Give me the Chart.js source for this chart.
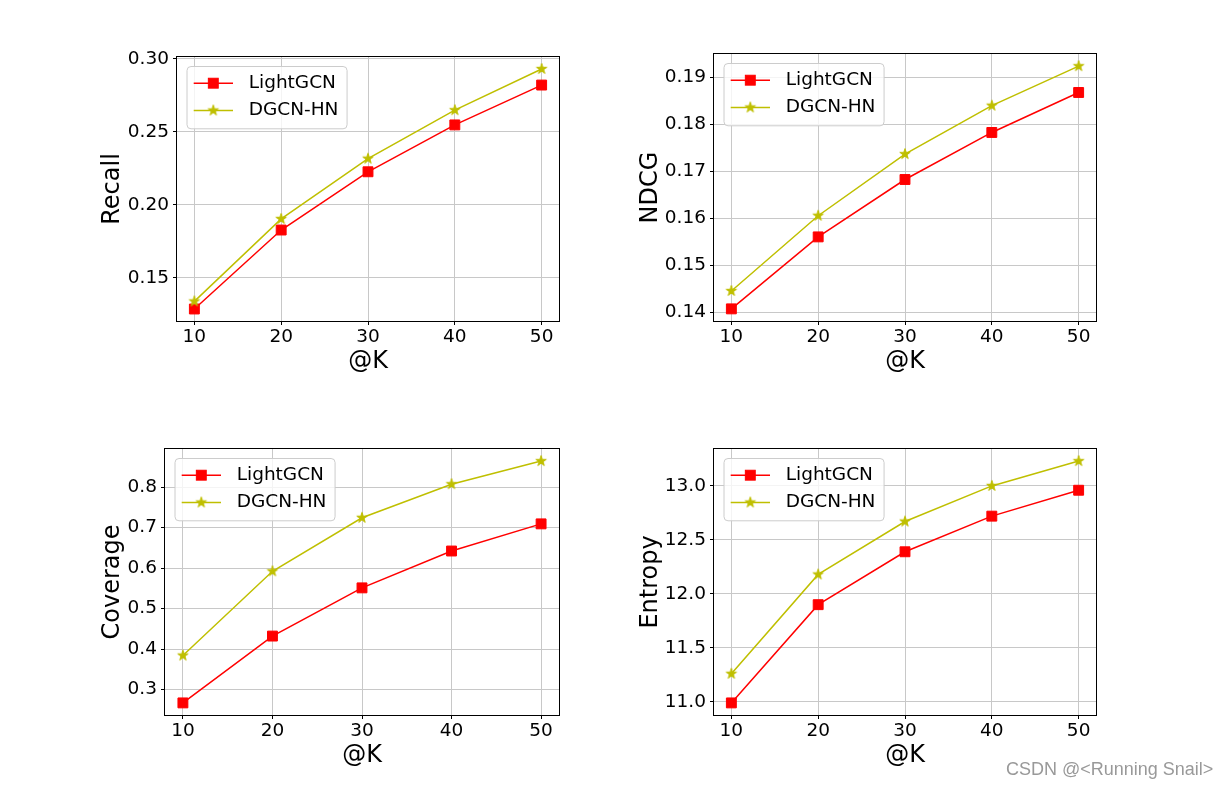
<!DOCTYPE html>
<html>
<head>
<meta charset="utf-8">
<script src="https://cdn.jsdelivr.net/npm/chart.js@4.4.1/dist/chart.umd.min.js"></script>
<style>
  html, body { margin: 0; padding: 0; background: #fff; }
  body { width: 1229px; height: 787px; position: relative; overflow: hidden; }
  canvas { position: absolute; }
  #mark { position: absolute; left: 1006px; top: 759px; font: 18px 'Liberation Sans', Arial, sans-serif; color: #999; white-space: nowrap; }
</style>
</head>
<body>
<canvas id="recall"></canvas>
<canvas id="ndcg"></canvas>
<canvas id="coverage"></canvas>
<canvas id="entropy"></canvas>
<div id="mark">CSDN @&lt;Running Snail&gt;</div>
<script>
// data
const kValues = [10, 20, 30, 40, 50];
const xTicks = [10, 20, 30, 40, 50];
const seriesNames = ['LightGCN', 'DGCN-HN'];

const recallLightGCN = [0.1287, 0.1828, 0.2227, 0.2548, 0.2821];
const recallDGCN = [0.1339, 0.1904, 0.2317, 0.2649, 0.2931];
const recallTicks = [0.15, 0.20, 0.25, 0.30];
const recallTickLabels = ['0.15', '0.20', '0.25', '0.30'];

const ndcgLightGCN = [0.1408, 0.1561, 0.1683, 0.1783, 0.1868];
const ndcgDGCN = [0.1446, 0.1606, 0.1737, 0.1840, 0.1924];
const ndcgTicks = [0.14, 0.15, 0.16, 0.17, 0.18, 0.19];
const ndcgTickLabels = ['0.14', '0.15', '0.16', '0.17', '0.18', '0.19'];

const coverageLightGCN = [0.267, 0.432, 0.551, 0.642, 0.709];
const coverageDGCN = [0.384, 0.592, 0.724, 0.807, 0.864];
const coverageTicks = [0.3, 0.4, 0.5, 0.6, 0.7, 0.8];
const coverageTickLabels = ['0.3', '0.4', '0.5', '0.6', '0.7', '0.8'];

const entropyLightGCN = [10.99, 11.90, 12.39, 12.72, 12.96];
const entropyDGCN = [11.26, 12.18, 12.67, 13.00, 13.23];
const entropyTicks = [11.0, 11.5, 12.0, 12.5, 13.0];
const entropyTickLabels = ['11.0', '11.5', '12.0', '12.5', '13.0'];

const FONT = "'DejaVu Sans'";
const TICK_SIZE = 18.5;
const RED = '#ff0000';
const OLIVE = '#bfbf00';

Chart.defaults.font.family = FONT;
Chart.defaults.color = '#000';

// filled 5 point star like matplotlib '*'
function makeStar(color, r) {
    const c = document.createElement('canvas');
    const s = 14;
    c.width = c.height = s;
    const g = c.getContext('2d');
    g.beginPath();
    for (let i = 0; i < 10; i++) {
        const rad = i % 2 ? r * 0.382 : r;
        const a = -Math.PI / 2 + i * Math.PI / 5;
        const px = s / 2 + rad * Math.cos(a);
        const py = s / 2 + rad * Math.sin(a);
        if (i) g.lineTo(px, py); else g.moveTo(px, py);
    }
    g.closePath();
    g.fillStyle = color;
    g.fill();
    g.strokeStyle = color;
    g.lineWidth = 1;
    g.stroke();
    return c;
}
const starImg = makeStar(OLIVE, 5.5);

// axes frame + matplotlib style legend in upper left
const frameLegend = {
    id: 'frameLegend',
    afterDatasetsDraw(chart) {
        const { ctx, chartArea: a } = chart;
        ctx.save();
        ctx.strokeStyle = '#000';
        ctx.lineWidth = 1;
        const l = Math.round(a.left) - 0.5, t = Math.round(a.top) - 0.5;
        const r = Math.round(a.right) + 0.5, b = Math.round(a.bottom) + 0.5;
        ctx.strokeRect(l, t, r - l, b - t);
        ctx.restore();
    },
    afterDraw(chart) {
        const { ctx, chartArea: a } = chart;
        const sets = chart.data.datasets;
        ctx.save();
        ctx.font = TICK_SIZE + 'px ' + FONT;
        const tw = Math.max(...sets.map(d => ctx.measureText(d.label).width));
        const x0 = a.left + 10, y0 = a.top + 9.5;
        const bw = 61.7 + tw + 8.6, bh = 62.3;
        ctx.beginPath();
        ctx.roundRect(x0, y0, bw, bh, 4);
        ctx.fillStyle = 'rgba(255,255,255,0.8)';
        ctx.fill();
        ctx.strokeStyle = '#cccccc';
        ctx.lineWidth = 1;
        ctx.stroke();
        sets.forEach((d, i) => {
            const cy = y0 + 16.7 + i * 27.3;
            ctx.strokeStyle = d.borderColor;
            ctx.lineWidth = d.borderWidth;
            ctx.beginPath();
            ctx.moveTo(x0 + 6.7, cy);
            ctx.lineTo(x0 + 46, cy);
            ctx.stroke();
            const mx = x0 + 26.3;
            if (d.pointStyle instanceof HTMLCanvasElement) {
                const im = d.pointStyle;
                ctx.drawImage(im, mx - im.width / 2, cy - im.height / 2);
            } else {
                const side = Math.SQRT2 * d.pointRadius;
                ctx.fillStyle = d.backgroundColor;
                ctx.fillRect(mx - side / 2, cy - side / 2, side, side);
                ctx.lineWidth = d.pointBorderWidth;
                ctx.strokeRect(mx - side / 2, cy - side / 2, side, side);
            }
            ctx.fillStyle = '#000';
            ctx.textBaseline = 'middle';
            ctx.textAlign = 'left';
            ctx.fillText(d.label, x0 + 61.7, cy);
        });
        ctx.restore();
    }
};

// axes boxes [left, top, right, bottom] and y label centre
const panels = [
    { id: 'recall', title: 'Recall', a: recallLightGCN, b: recallDGCN, ticks: recallTicks, labels: recallTickLabels, box: [177, 57, 559, 321], labelX: 112 },
    { id: 'ndcg', title: 'NDCG', a: ndcgLightGCN, b: ndcgDGCN, ticks: ndcgTicks, labels: ndcgTickLabels, box: [714, 54, 1096, 321], labelX: 650 },
    { id: 'coverage', title: 'Coverage', a: coverageLightGCN, b: coverageDGCN, ticks: coverageTicks, labels: coverageTickLabels, box: [165, 449, 559, 715], labelX: 112 },
    { id: 'entropy', title: 'Entropy', a: entropyLightGCN, b: entropyDGCN, ticks: entropyTicks, labels: entropyTickLabels, box: [714, 449, 1096, 715], labelX: 650 }
];

function makeChart(p) {
    const canvas = document.getElementById(p.id);
    const [L, T, R, B] = p.box;
    const left = Math.round(p.labelX - 14.4);
    const top = T - 16;
    const w = R - left + 12;
    const h = B - top + 55;
    canvas.width = w;
    canvas.height = h;
    canvas.style.left = left + 'px';
    canvas.style.top = top + 'px';
    canvas.style.width = w + 'px';
    canvas.style.height = h + 'px';
    const yW = L - left;

    // matplotlib-like 5% margins
    const lo = Math.min(...p.a, ...p.b), hi = Math.max(...p.a, ...p.b);
    const m = (hi - lo) * 0.05;

    const tickFont = { family: FONT, size: TICK_SIZE };
    const titleFont = { family: FONT, size: 24 };
    const grid = { color: '#c8c8c8', lineWidth: 1, tickLength: 4, tickColor: '#000', tickWidth: 1 };

    new Chart(canvas, {
        type: 'line',
        data: {
            datasets: [
                {
                    label: seriesNames[0],
                    data: kValues.map((k, i) => ({ x: k, y: p.a[i] })),
                    borderColor: RED, backgroundColor: RED,
                    borderWidth: 1.5, pointStyle: 'rect', pointRadius: 7, pointBorderWidth: 1,
                    order: 1
                },
                {
                    label: seriesNames[1],
                    data: kValues.map((k, i) => ({ x: k, y: p.b[i] })),
                    borderColor: OLIVE, backgroundColor: OLIVE,
                    borderWidth: 1.5, pointStyle: starImg, pointRadius: 6, pointBorderWidth: 0,
                    order: 0
                }
            ]
        },
        options: {
            responsive: false,
            animation: false,
            devicePixelRatio: 1,
            layout: { padding: { top: 16, right: 12, left: 0, bottom: 0 } },
            plugins: { legend: { display: false }, tooltip: { enabled: false } },
            scales: {
                x: {
                    type: 'linear', min: 8, max: 52,
                    afterBuildTicks: s => { s.ticks = xTicks.map(v => ({ value: v })); },
                    afterFit: s => { s.height = 55; },
                    ticks: { font: tickFont, color: '#000', padding: 1, maxRotation: 0, autoSkip: false, callback: v => String(v) },
                    grid: grid,
                    border: { display: false },
                    title: { display: true, text: '@K', font: titleFont, color: '#000', padding: 0 }
                },
                y: {
                    type: 'linear', min: lo - m, max: hi + m,
                    afterBuildTicks: s => { s.ticks = p.ticks.map(v => ({ value: v })); },
                    afterFit: s => { s.width = yW; },
                    ticks: { font: tickFont, color: '#000', padding: 4, autoSkip: false, callback: v => p.labels[p.ticks.indexOf(v)] },
                    grid: grid,
                    border: { display: false },
                    title: { display: true, text: p.title, font: titleFont, color: '#000', padding: 0 }
                }
            }
        },
        plugins: [frameLegend]
    });
}

panels.forEach(makeChart);
</script>
</body>
</html>
